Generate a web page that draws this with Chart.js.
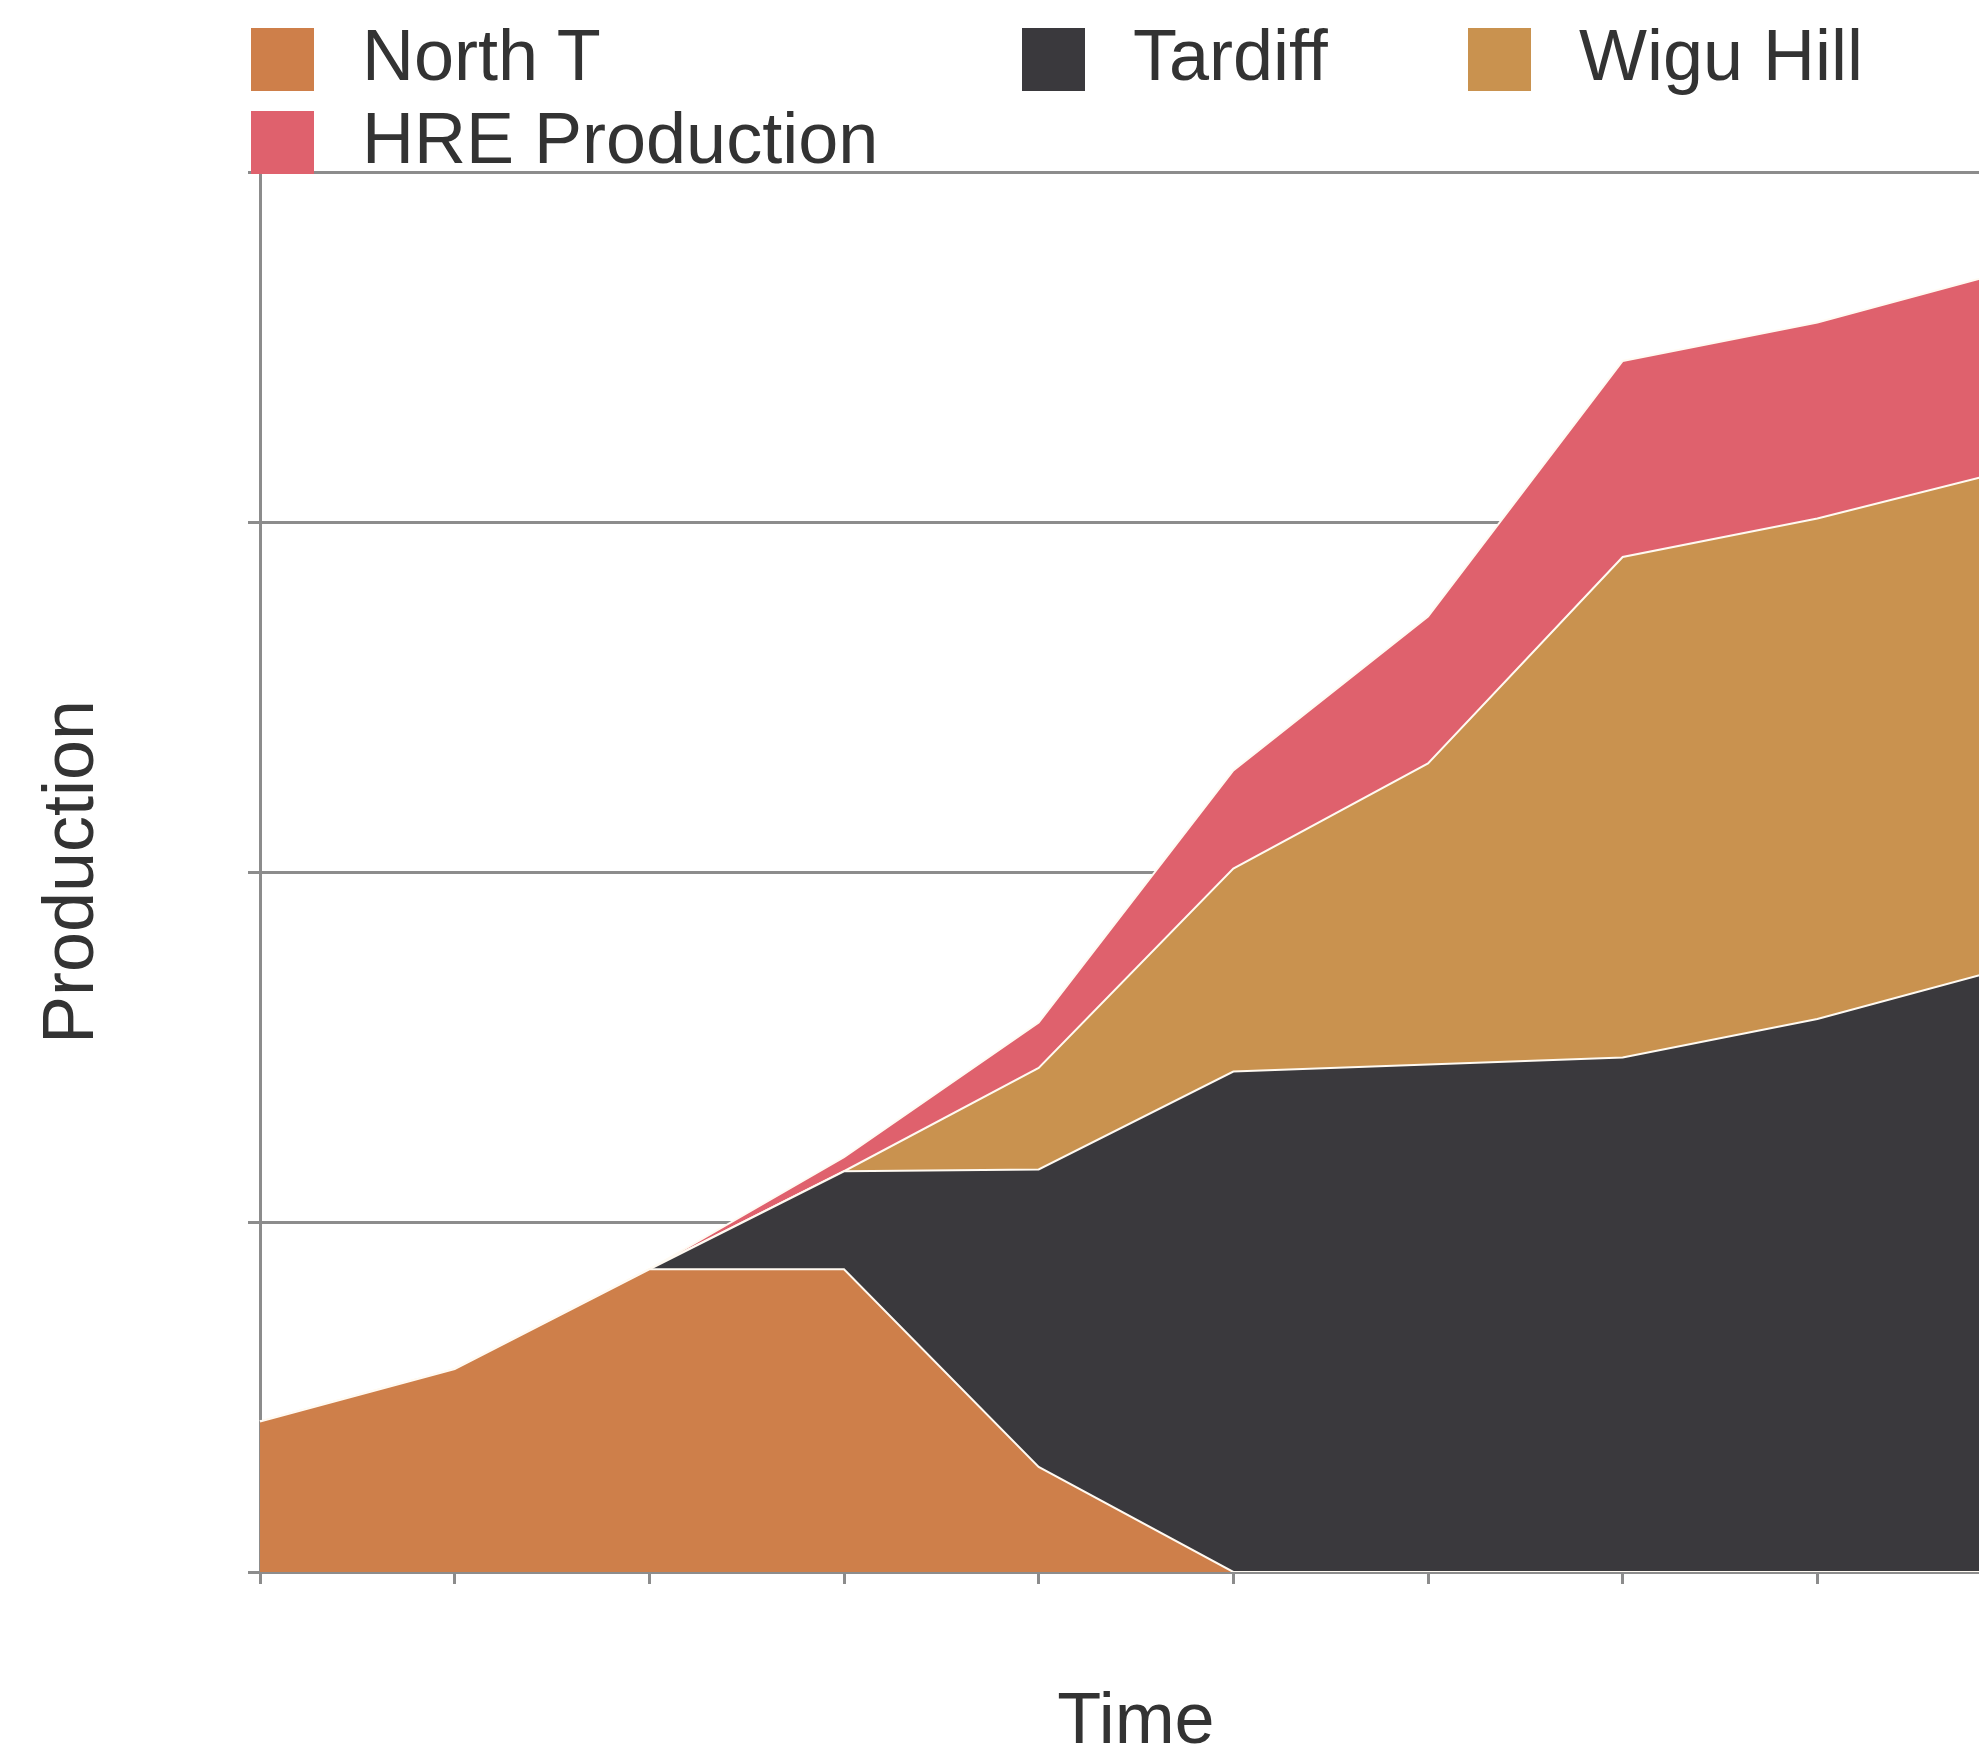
<!DOCTYPE html>
<html>
<head>
<meta charset="utf-8">
<script src="https://cdn.jsdelivr.net/npm/chart.js@4.4.1/dist/chart.umd.min.js"></script>
<style>
  html, body { margin: 0; padding: 0; background: #fff; overflow: hidden; }
  #wrap { position: relative; width: 2012px; height: 1750px; }
  #legend { position: absolute; left: 0; top: 0; font-family: 'Liberation Sans', Arial, sans-serif; color: #333; }
  .item { position: absolute; height: 63px; white-space: nowrap; }
  .box { position: absolute; left: 0; top: 0; width: 63px; height: 63px; }
  .txt { position: absolute; left: 111px; top: -4px; font-size: 72px; line-height: 63px; }
</style>
</head>
<body>
<div id="wrap">
  <canvas id="areaChart"></canvas>
  <div id="legend"></div>
</div>
<script>
// time steps (no tick labels shown on the axis)
const periods = ['1', '2', '3', '4', '5', '6', '7', '8', '9', '10'];

// production per source, stacked
const northT   = [0.43, 0.58, 0.865, 0.865, 0.30, 0, 0, 0, 0, 0];
const tardiff  = [0, 0, 0, 0.28, 0.85, 1.43, 1.45, 1.47, 1.58, 1.73];
const wiguHill = [0, 0, 0, 0, 0.29, 0.58, 0.86, 1.43, 1.43, 1.42];
const hreProd  = [0, 0, 0, 0.04, 0.13, 0.28, 0.42, 0.56, 0.56, 0.57];

const seriesNames = ['North T', 'Tardiff', 'Wigu Hill', 'HRE Production'];
const seriesColors = ['#CE7F4A', '#3A393D', '#C9924F', '#DF616D'];

// where each legend entry sits (left, top)
const legendSlots = [[251, 28], [1022, 28], [1468, 28], [251, 111]];

const font = "'Liberation Sans', Arial, sans-serif";
const gridGray = '#8c8c8c';

function makeSet(i, values) {
  return {
    label: seriesNames[i],
    data: values,
    backgroundColor: seriesColors[i],
    borderColor: '#fffaf2',
    borderWidth: 2,
    pointRadius: 0,
    tension: 0,
    fill: i === 0 ? 'origin' : '-1'
  };
}

const htmlLegend = {
  id: 'htmlLegend',
  afterInit(chart) {
    const el = document.getElementById('legend');
    el.innerHTML = '';
    chart.data.datasets.forEach((ds, i) => {
      const item = document.createElement('div');
      item.className = 'item';
      item.style.left = legendSlots[i][0] + 'px';
      item.style.top = legendSlots[i][1] + 'px';
      const box = document.createElement('span');
      box.className = 'box';
      box.style.background = ds.backgroundColor;
      const txt = document.createElement('span');
      txt.className = 'txt';
      txt.textContent = ds.label;
      item.appendChild(box);
      item.appendChild(txt);
      el.appendChild(item);
    });
  }
};

const ctx = document.getElementById('areaChart').getContext('2d');
const areaChart = new Chart(ctx, {
  type: 'line',
  data: {
    labels: periods,
    datasets: [
      makeSet(0, northT),
      makeSet(1, tardiff),
      makeSet(2, wiguHill),
      makeSet(3, hreProd)
    ]
  },
  options: {
    responsive: true,
    maintainAspectRatio: false,
    animation: false,
    layout: { padding: { top: 172, left: 0, right: 0, bottom: 0 } },
    plugins: {
      legend: { display: false },
      tooltip: { enabled: false }
    },
    scales: {
      x: {
        grid: { drawOnChartArea: false, drawTicks: true, tickLength: 12, color: gridGray, lineWidth: 3 },
        border: { display: true, color: gridGray, width: 3 },
        ticks: { display: false, autoSkip: false },
        title: {
          display: true,
          text: 'Time',
          color: '#333',
          font: { family: font, size: 72, lineHeight: 0.75 },
          padding: { top: 112, bottom: 0 }
        }
      },
      y: {
        stacked: true,
        min: 0,
        max: 4,
        grid: { color: gridGray, lineWidth: 3, drawTicks: true, tickLength: 12 },
        border: { display: true, color: gridGray, width: 3 },
        ticks: { display: false, stepSize: 1 },
        title: {
          display: true,
          text: 'Production',
          color: '#333',
          font: { family: font, size: 72, lineHeight: 0.75 },
          padding: { top: 46, bottom: 148 }
        }
      }
    }
  },
  plugins: [htmlLegend]
});
</script>
</body>
</html>
